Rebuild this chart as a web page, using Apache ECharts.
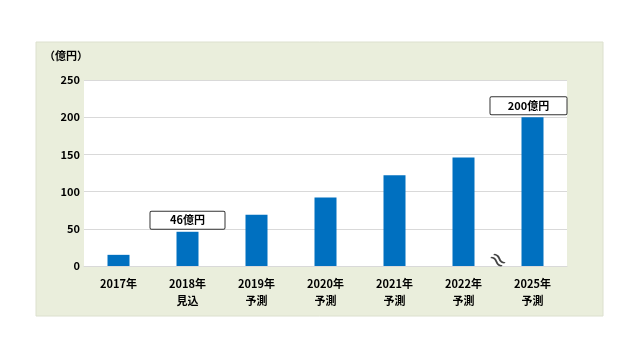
<!DOCTYPE html>
<html><head><meta charset="utf-8">
<script src="https://cdn.jsdelivr.net/npm/echarts@6/dist/echarts.min.js"></script>
<style>html,body{margin:0;padding:0;background:#fff}#c{width:640px;height:360px}</style>
</head><body><div id="c"></div>
<script>
const categories = ['2017年', '2018年\n見込', '2019年\n予測', '2020年\n予測', '2021年\n予測', '2022年\n予測', '2025年\n予測'];
const values = [15, 46, 69, 92, 122, 146, 200];
const calloutLabels = {1: '46億円', 6: '200億円'};
const yTicks = {min: 0, max: 250, interval: 50};
const unitLabel = '（億円）';

const font = '"Noto Sans CJK JP", "Noto Sans", sans-serif';
const chart = echarts.init(document.getElementById('c'));
const data = values.map((v, i) => {
  const d = {value: v};
  if (calloutLabels[i]) {
    d.label = {
      show: true, position: 'top', distance: 3,
      formatter: calloutLabels[i],
      offset: i === 6 ? [-4, 0] : [0, 0],
      color: '#000', fontFamily: font, fontWeight: 'bold', fontSize: 11,
      backgroundColor: '#fff', borderColor: '#333', borderWidth: 1,
      width: i === 6 ? 68 : 66, align: 'center',
      padding: [3, 4, 3, 4], borderRadius: 1
    };
  }
  return d;
});
chart.setOption({
  animation: false,
  backgroundColor: '#fff',
  graphic: [{
    type: 'rect', z: -10,
    shape: {x: 36, y: 42, width: 567, height: 274},
    style: {fill: '#EAEEDC', stroke: '#DCE0CE', lineWidth: 1}
  }, {
    type: 'text', left: 44, top: 50, z: 10,
    style: {text: unitLabel, fontFamily: font, fontWeight: 'bold', fontSize: 11, fill: '#000'}
  }],
  grid: {left: 84, right: 73, top: 80, bottom: 94, show: true, backgroundColor: '#fff', borderWidth: 0},
  xAxis: {
    type: 'category', data: categories,
    axisLine: {show: true, lineStyle: {color: '#D9D9D9'}},
    axisTick: {show: false},
    axisLabel: {color: '#000', fontFamily: font, fontWeight: 'bold', fontSize: 11, lineHeight: 17, margin: 9}
  },
  yAxis: {
    type: 'value', min: yTicks.min, max: yTicks.max, interval: yTicks.interval,
    axisLine: {show: false}, axisTick: {show: false},
    splitLine: {lineStyle: {color: '#D9D9D9'}},
    axisLabel: {color: '#000', fontFamily: font, fontWeight: 'bold', fontSize: 11, margin: 4}
  },
  series: [{
    type: 'bar', data: data, barWidth: 22,
    itemStyle: {color: '#0070C0'}
  }]
});
// axis break mark between the last two categories
const p1 = chart.convertToPixel({xAxisIndex: 0, yAxisIndex: 0}, [5, 0]);
const p2 = chart.convertToPixel({xAxisIndex: 0, yAxisIndex: 0}, [6, 0]);
chart.setOption({graphic: [{}, {}, {
  type: 'text', x: (p1[0] + p2[0]) / 2 - 1, y: p1[1] - 5, z: 20,
  rotation: -Math.PI / 4, originX: 0, originY: 0,
  style: {text: '≈', fontFamily: 'DejaVu Sans', fontSize: 22, fill: '#444', align: 'center', verticalAlign: 'middle'}
}]});
</script></body></html>
